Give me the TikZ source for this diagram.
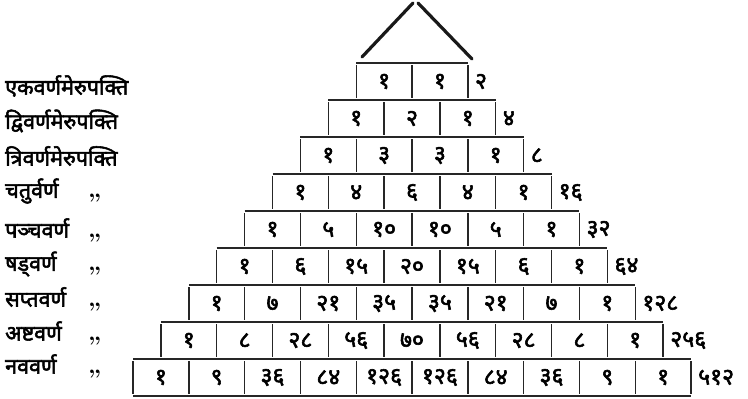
\documentclass[tikz,border=0pt]{standalone}
\usepackage{fontspec}
\newfontfamily\deva[Script=Devanagari,FakeBold=2.5]{Noto Sans}
\def\mxo{412}\def\mcw{55.8}\def\myt{63}\def\mrh{37}
\newcommand\merurow[3]{%
  \pgfmathsetmacro\mrl{\mxo-(#1+1)/2*\mcw}%
  \pgfmathsetmacro\mrr{\mxo+(#1+1)/2*\mcw}%
  \pgfmathsetmacro\mrt{\myt+(#1-1)*\mrh}%
  \pgfmathsetmacro\mrb{\mrt+\mrh}%
  \pgfmathsetmacro\mrc{\mrt+\mrh/2}%
  \coordinate (tl#1) at (\mrl,\mrt);
  \coordinate (tr#1) at (\mrr,\mrt);
  \coordinate (bl#1) at (\mrl,\mrb);
  \coordinate (br#1) at (\mrr,\mrb);
  \draw[rule] (tl#1) -- (tr#1);
  \foreach \cellv [count=\j from 0] in {#2} {
    \node[num] (c#1-\j) at ({\mrl+(\j+0.5)*\mcw},\mrc) {\cellv};
  }
  \pgfmathtruncatemacro\mnv{#1+1}%
  \foreach \j in {0,...,\mnv} {
    \coordinate (vt#1-\j) at ({\mrl+\j*\mcw},{\mrt+2});
    \coordinate (vb#1-\j) at ({\mrl+\j*\mcw},{\mrb-2});
    \draw[rule] (vt#1-\j) -- (vb#1-\j);
  }
  \node[tot] (s#1) at ({\mrr+7},\mrc) {#3};
}
\begin{document}
\begin{tikzpicture}[x=1pt,y=-1pt,
  rule/.style={line width=1.4pt, draw=black!85},
  roof/.style={line width=3.2pt, draw=black!90, line cap=round},
  num/.style={font=\deva\fontsize{23}{23}\selectfont, inner sep=0pt},
  tot/.style={num, anchor=west},
  lab/.style={font=\deva\fontsize{21.5}{21.5}\selectfont, inner sep=0pt, anchor=west},
  ditto/.style={font=\bfseries\fontsize{24}{24}\selectfont, inner sep=0pt, anchor=base west}]
\useasboundingbox (0,0) rectangle (748,399);
% roof
\coordinate (roofL) at (362,57);
\coordinate (roofA) at (413,3);
\coordinate (roofB) at (418,3);
\coordinate (roofR) at (472,59);
\draw[roof] (roofL) -- (roofA);
\draw[roof] (roofB) -- (roofR);
% rows
\merurow{1}{१,१}{२}
\merurow{2}{१,२,१}{४}
\merurow{3}{१,३,३,१}{८}
\merurow{4}{१,४,६,४,१}{१६}
\merurow{5}{१,५,१०,१०,५,१}{३२}
\merurow{6}{१,६,१५,२०,१५,६,१}{६४}
\merurow{7}{१,७,२१,३५,३५,२१,७,१}{१२८}
\merurow{8}{१,८,२८,५६,७०,५६,२८,८,१}{२५६}
\merurow{9}{१,९,३६,८४,१२६,१२६,८४,३६,९,१}{५१२}
\draw[rule] (bl9) -- (br9);
% labels
\node[lab] (lab1) at (5,86) {एकवर्णमेरुपक्ति};
\node[lab] (lab2) at (5,121) {द्विवर्णमेरुपक्ति};
\node[lab] (lab3) at (5,156) {त्रिवर्णमेरुपक्ति};
\node[lab] (lab4) at (5,191) {चतुर्वर्ण};
\node[lab] (lab5) at (5,228) {पञ्चवर्ण};
\node[lab] (lab6) at (5,264) {षड्वर्ण};
\node[lab] (lab7) at (5,297) {सप्तवर्ण};
\node[lab] (lab8) at (5,331) {अष्टवर्ण};
\node[lab] (lab9) at (5,364) {नववर्ण};
\foreach \i in {4,...,9} {
  \node[ditto] (d\i) at (88,0 |- lab\i.base) {,,};
}
\end{tikzpicture}
\end{document}
